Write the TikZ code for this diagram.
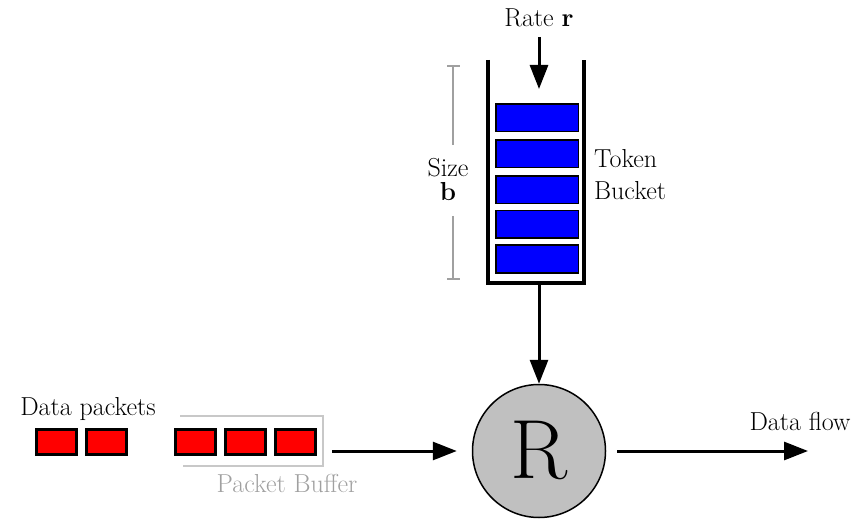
\documentclass[tikz,border=0pt]{standalone}
\usepackage{fontspec}
\usetikzlibrary{arrows.meta}
\definecolor{rgray}{HTML}{C0C0C0}
\definecolor{bufgray}{HTML}{C8C8C8}
\definecolor{txtgray}{HTML}{A0A0A0}
\definecolor{tokblue}{HTML}{0000FF}
\definecolor{pktred}{HTML}{FF0000}
\begin{document}
\begin{tikzpicture}[x=1pt,y=-1pt,
  lbl/.style={font=\rmfamily\fontsize{26}{30}\selectfont, inner sep=0pt},
  token/.style={draw=black, fill=tokblue, line width=1.5pt, minimum width=82.5pt, minimum height=27.5pt, inner sep=0pt},
  pkt/.style={draw=black, fill=pktred, line width=3pt, minimum width=40pt, minimum height=25pt, inner sep=0pt},
  flow/.style={line width=3pt, -{Triangle[length=24pt,width=18pt]}},
  wall/.style={line width=3.5pt},
  grayline/.style={draw=bufgray, line width=2.2pt},
  sizeline/.style={draw=txtgray, line width=1.5pt}]
\useasboundingbox (0,0) rectangle (864,521);

% token bucket walls
\coordinate (wl) at (488,60);
\coordinate (wr) at (584,60);
\coordinate (bb) at (539,283);
\draw[wall] (wl) -- (488,283) -- (584,283) -- (wr);

% tokens
\node[token] (t1) at (537,118) {};
\node[token] (t2) at (537,154) {};
\node[token] (t3) at (537,190) {};
\node[token] (t4) at (537,224.5) {};
\node[token] (t5) at (537,259) {};

% rate
\node[lbl, anchor=base] (rate) at (539,27) {Rate \textbf{r}};
\coordinate (rs) at (539,37);
\coordinate (re) at (539,89);
\draw[flow] (rs) -- (re);

% size b
\node[lbl, anchor=base] (size) at (448,177) {Size};
\node[lbl, anchor=base] (sb) at (448,201) {\textbf{b}};
\coordinate (st) at (453,66);
\coordinate (sbt) at (453,279);
\draw[sizeline] (st) -- (453,145);
\draw[sizeline] (453,216) -- (sbt);
\draw[sizeline] (447,66) -- (460,66);
\draw[sizeline] (447,279) -- (460,279);

% token bucket label
\node[lbl, anchor=base west] (tok) at (594,168) {Token};
\node[lbl, anchor=base west] (buck) at (594,200) {Bucket};

% router
\node[circle, draw=black, fill=rgray, line width=1.5pt, minimum size=133pt, inner sep=0pt] (R) at (539,451) {};
\node[font=\rmfamily\fontsize{84}{90}\selectfont, inner sep=0pt, anchor=base] (Rt) at (539,478) {R};

\draw[flow] (bb) -- (R.north);

% data packets
\node[lbl, anchor=base] (dp) at (88,415) {Data packets};
\node[pkt] (p1) at (56.5,442) {};
\node[pkt] (p2) at (106.5,442) {};
\node[pkt] (p3) at (195.5,442) {};
\node[pkt] (p4) at (245,442) {};
\node[pkt] (p5) at (295,442) {};

% packet buffer
\draw[grayline] (180,416) -- (323,416) -- (323,466) -- (183,466);
\node[lbl, anchor=base, text=txtgray] (pb) at (287,492) {Packet Buffer};

% flows
\coordinate (ins) at (332,451);
\draw[flow, shorten >=15pt] (ins) -- (R.west);
\coordinate (out) at (808,451);
\draw[flow, shorten <=11pt] (R.east) -- (out);
\node[lbl, anchor=base] (df) at (800,430) {Data flow};
\end{tikzpicture}
\end{document}
